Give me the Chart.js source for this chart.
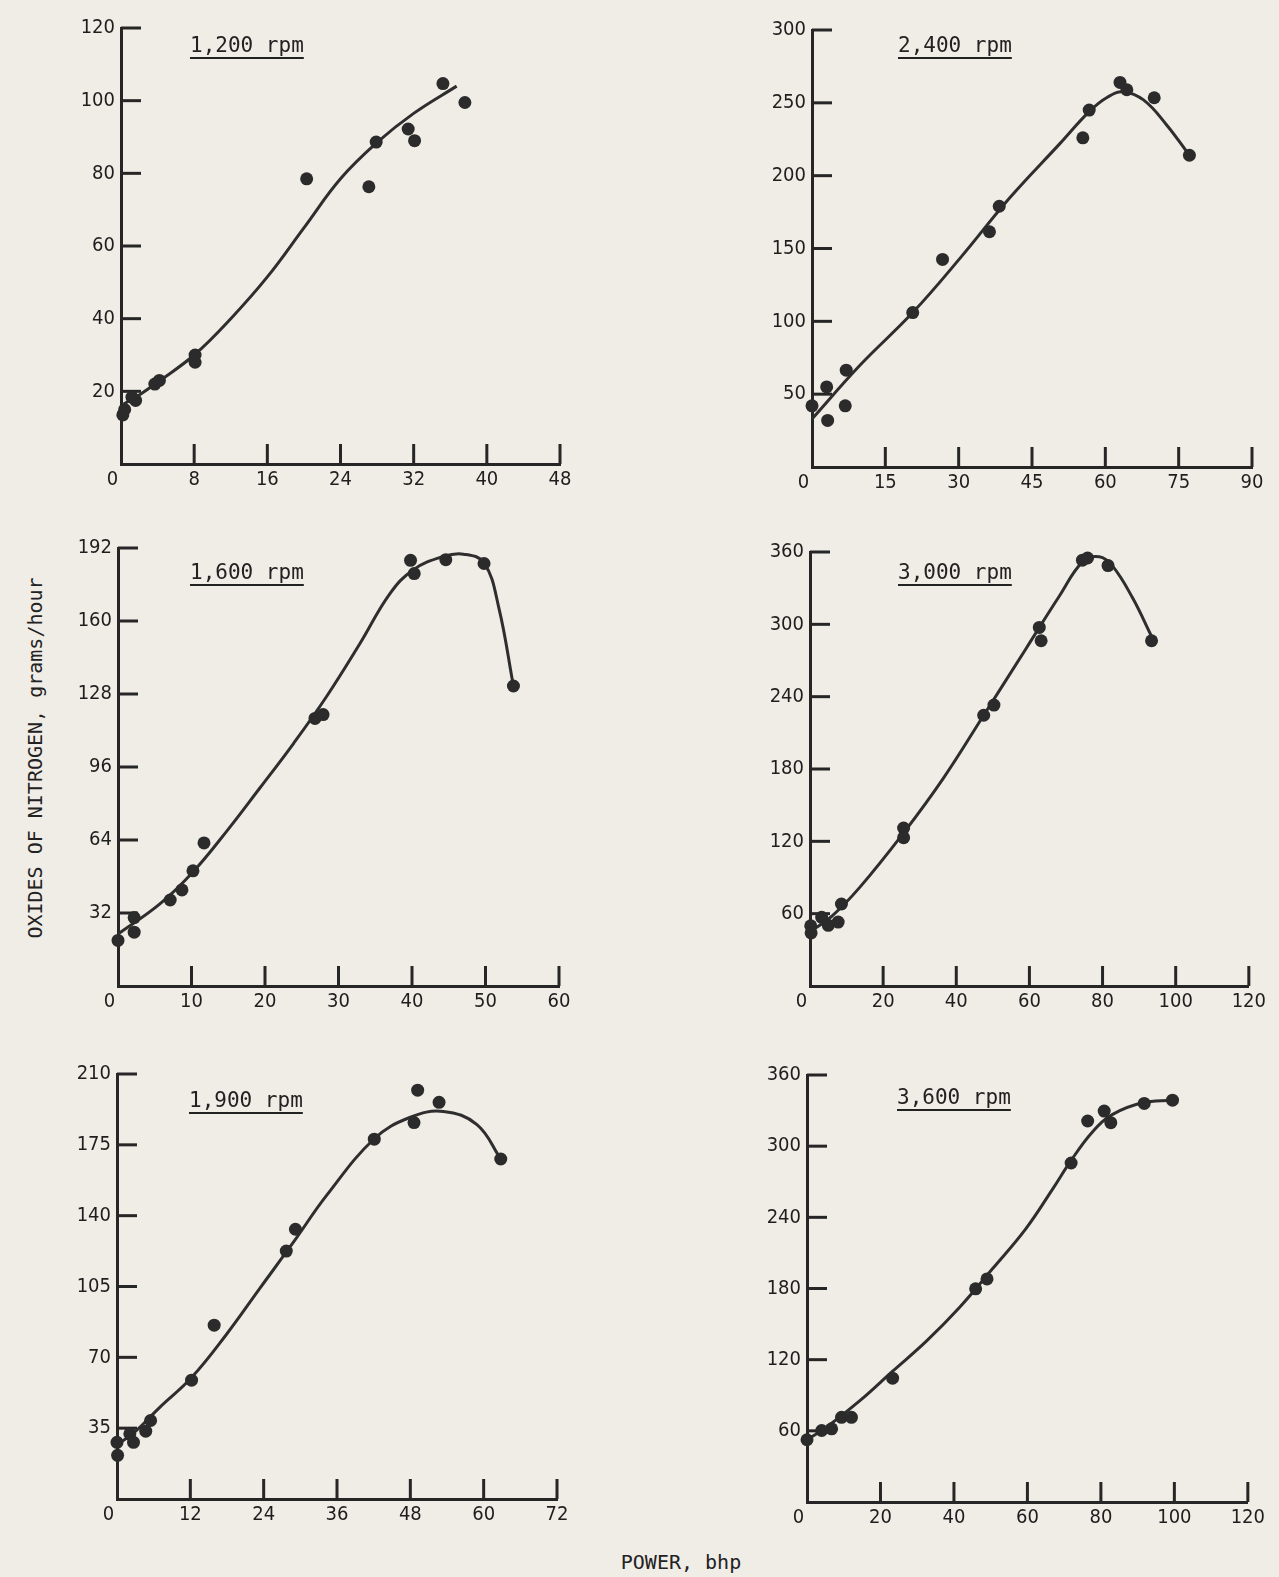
<!DOCTYPE html>
<html>
<head>
<meta charset="utf-8">
<script src="https://cdn.jsdelivr.net/npm/chart.js@4.4.1/dist/chart.umd.min.js"></script>
<style>
  html, body { margin: 0; padding: 0; }
  body { width: 1279px; height: 1577px; background: #f0ece6; position: relative; overflow: hidden; }
  canvas { position: absolute; }
  .rpm { position: absolute; font-family: 'DejaVu Sans Mono', 'Liberation Mono', monospace; font-size: 21px; line-height: 21px;
         color: #222; text-decoration: underline; text-decoration-thickness: 2px; text-underline-offset: 5px; white-space: pre; }
  .axt { position: absolute; font-family: 'DejaVu Sans Mono', 'Liberation Mono', monospace; font-size: 20px; color: #222; white-space: pre; }
</style>
</head>
<body>
<script>
// engine speed of each panel
const rpmLabels = ['1,200 rpm', '2,400 rpm', '1,600 rpm', '3,000 rpm', '1,900 rpm', '3,600 rpm'];

// measured points [power bhp, NOx g/h]
const nox1200Points = [[0.2,13.5],[0.4,15],[1.2,18.4],[1.6,17.5],[3.7,22],[4.2,23],[8.1,30],[8.1,28],[20.3,78.5],[27.1,76.3],[27.9,88.6],[31.4,92.2],[32.1,89],[35.2,104.7],[37.6,99.5]];
const nox2400Points = [[0,42],[3,55],[3.2,32],[7,66.5],[6.8,42],[20.6,106],[26.7,142.5],[36.3,161.5],[38.3,179],[55.4,226],[56.7,245],[63,264],[64.4,259],[70,253.5],[77.2,214]];
const nox1600Points = [[0,20],[2.2,30],[2.2,23.6],[7.1,37.7],[8.7,42.1],[10.2,50.5],[11.7,62.7],[26.8,117.3],[27.9,119],[39.8,186.6],[40.3,180.8],[44.6,186.9],[49.8,185.2],[53.8,131.5]];
const nox3000Points = [[0.2,50],[0.3,44],[3.2,57],[5,50.3],[7.7,53],[8.6,68],[25.6,131],[25.6,123],[47.5,224.6],[50.3,233],[62.7,297.4],[63.2,286.4],[74.5,353.2],[75.9,355],[81.5,348.7],[93.4,286.4]];
const nox1900Points = [[0,28],[0.1,21.6],[2.1,32.2],[2.7,28],[4.7,33.5],[5.5,38.8],[12.2,58.7],[15.9,85.9],[27.7,122.5],[29.2,133.3],[42.1,177.8],[48.6,186],[49.2,202],[52.7,196],[62.8,168]];
const nox3600Points = [[0,52.5],[4,60.3],[6.7,61.7],[9.4,71.4],[12.1,71.4],[23.3,104.4],[45.9,179.7],[49,188.1],[71.9,285.8],[76.4,321.2],[80.9,329.6],[82.7,319.8],[91.8,336],[99.5,338.8]];

// hand-drawn fitted curves
const nox1200Curve = [[0.3,16.5],[2,19],[4,22.5],[8,30],[12,40],[16,51.5],[20,65],[24,78.5],[28,88.5],[32,96.5],[36.7,104]];
const nox2400Curve = [[0,33],[10,70.5],[20.6,106],[30.3,143.4],[40.5,185],[50.7,222],[56.7,244],[60.5,254],[63.7,257.5],[67.8,252],[72.5,235],[77.2,214]];
const nox1600Curve = [[0,22.8],[5.7,36],[10.2,50],[14.8,67.9],[19.3,86.8],[23.9,106.4],[28.4,127],[32.9,150],[37,172],[40.2,182.5],[44.3,188.3],[47,189.3],[49.8,185.5],[51.8,166],[53.8,131.5]];
const nox3000Curve = [[0,45],[6,58],[13.6,81.8],[25.6,127],[36.4,172],[47.5,224.6],[59.1,280],[68.2,323.5],[74.6,352],[79.1,356],[82.7,348.5],[88.2,322],[93.4,290]];
const nox1900Curve = [[0,27],[2.5,32],[7,45.3],[12.2,60],[17.9,81.3],[23.4,104.2],[28.9,127],[34.3,150],[42.1,178],[47.9,188.5],[53.4,191.5],[58.9,185],[62.8,168]];
const nox3600Curve = [[0,52.5],[5.3,63],[14.4,85.4],[23.4,110.5],[32.5,135.6],[41.5,164],[50.6,197],[59.6,230.5],[66.9,264],[71.9,288],[77.7,312],[83.2,326.8],[91.3,336.6],[99.5,338.8]];

// axis ticks
const xMax  = [48, 90, 60, 120, 72, 120];
const xStep = [8, 15, 10, 20, 12, 20];
const yMax  = [120, 300, 192, 360, 210, 360];
const yStep = [20, 50, 32, 60, 35, 60];

const allPoints = [nox1200Points, nox2400Points, nox1600Points, nox3000Points, nox1900Points, nox3600Points];
const allCurves = [nox1200Curve, nox2400Curve, nox1600Curve, nox3000Curve, nox1900Curve, nox3600Curve];

// plot boxes on the page: axis left, top, right, bottom (px) + title spot
const boxes = [
  { l: 121, t: 25,   r: 560,  b: 464,  tx: 190, ty: 35 },
  { l: 812, t: 27,   r: 1252, b: 467,  tx: 898, ty: 35 },
  { l: 118, t: 545,  r: 559,  b: 986,  tx: 190, ty: 562 },
  { l: 810, t: 549,  r: 1250, b: 986,  tx: 898, ty: 562 },
  { l: 117, t: 1071, r: 557,  b: 1499, tx: 189, ty: 1090 },
  { l: 807, t: 1072, r: 1249, b: 1502, tx: 897, ty: 1087 }
];

const INK = '#262626';
const tickFont = { family: "'DejaVu Sans Condensed', 'Liberation Sans Narrow', 'Roboto Condensed', 'Liberation Sans', sans-serif", size: 20 };

// tick marks drawn inward from the axes, like the original
const inwardTicks = {
  id: 'inwardTicks',
  beforeDatasetsDraw(chart) {
    const { ctx, chartArea, scales } = chart;
    ctx.save();
    ctx.strokeStyle = INK;
    ctx.lineWidth = 3;
    scales.x.ticks.forEach(t => {
      if (t.value === 0) return;
      const px = scales.x.getPixelForValue(t.value);
      ctx.beginPath();
      ctx.moveTo(px, chartArea.bottom);
      ctx.lineTo(px, chartArea.bottom - 20);
      ctx.stroke();
    });
    scales.y.ticks.forEach(t => {
      if (t.value === 0) return;
      const py = scales.y.getPixelForValue(t.value);
      ctx.beginPath();
      ctx.moveTo(chartArea.left, py);
      ctx.lineTo(chartArea.left + 20, py);
      ctx.stroke();
    });
    ctx.restore();
  }
};

boxes.forEach((bx, i) => {
  const cv = document.createElement('canvas');
  const w = bx.r - bx.l + 80;
  const h = bx.b - bx.t + 55;
  cv.width = w; cv.height = h;
  cv.style.left = (bx.l - 60) + 'px';
  cv.style.top = (bx.t - 15) + 'px';
  cv.style.width = w + 'px';
  cv.style.height = h + 'px';
  document.body.appendChild(cv);

  new Chart(cv.getContext('2d'), {
    type: 'scatter',
    data: {
      datasets: [
        {
          data: allPoints[i].map(p => ({ x: p[0], y: p[1] })),
          showLine: false,
          pointRadius: 6.5,
          pointBackgroundColor: '#2b2b2b',
          pointBorderColor: '#2b2b2b',
          pointBorderWidth: 0,
          clip: false,
          order: 0
        },
        {
          data: allCurves[i].map(p => ({ x: p[0], y: p[1] })),
          showLine: true,
          pointRadius: 0,
          borderColor: '#2e2e2e',
          borderWidth: 3,
          tension: 0.4,
          clip: false,
          order: 1
        }
      ]
    },
    options: {
      responsive: false,
      animation: false,
      events: [],
      layout: { padding: { left: 5, top: 15, right: 20, bottom: 5 } },
      plugins: { legend: { display: false }, tooltip: { enabled: false } },
      scales: {
        x: {
          type: 'linear',
          min: 0, max: xMax[i],
          afterFit: s => { s.height = 35; },
          border: { display: true, color: INK, width: 3 },
          grid: { display: false, drawTicks: false },
          ticks: {
            stepSize: xStep[i], padding: 4, color: '#1e1e1e', font: tickFont, maxRotation: 0, autoSkip: false,
            callback: v => v === 0 ? '0   ' : String(v)
          }
        },
        y: {
          type: 'linear',
          min: 0, max: yMax[i],
          afterFit: s => { s.width = 55; },
          border: { display: true, color: INK, width: 3 },
          grid: { display: false, drawTicks: false },
          ticks: {
            stepSize: yStep[i], padding: 6, color: '#1e1e1e', font: tickFont,
            callback: v => v === 0 ? '' : String(v)
          }
        }
      }
    },
    plugins: [inwardTicks]
  });

  const tt = document.createElement('div');
  tt.className = 'rpm';
  tt.textContent = rpmLabels[i];
  tt.style.left = bx.tx + 'px';
  tt.style.top = bx.ty + 'px';
  document.body.appendChild(tt);
});

// shared axis titles
const yt = document.createElement('div');
yt.className = 'axt';
yt.textContent = 'OXIDES OF NITROGEN, grams/hour';
yt.style.left = '35px';
yt.style.top = '758px';
yt.style.transform = 'translate(-50%, -50%) rotate(-90deg)';
document.body.appendChild(yt);

const xt = document.createElement('div');
xt.className = 'axt';
xt.textContent = 'POWER, bhp';
xt.style.left = '681px';
xt.style.top = '1562px';
xt.style.transform = 'translate(-50%, -50%)';
document.body.appendChild(xt);
</script>
</body>
</html>
